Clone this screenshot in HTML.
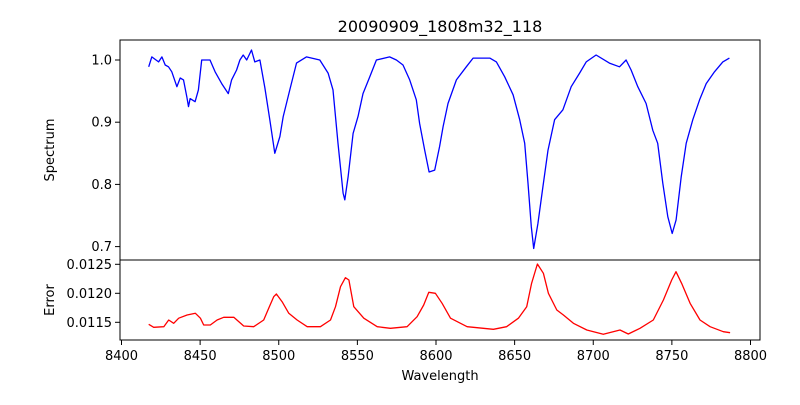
<!DOCTYPE html>
<html><head><meta charset="utf-8"><style>
body{margin:0;background:#fff}
svg text{font-family:"DejaVu Sans","Liberation Sans",sans-serif;fill:#000}
</style></head><body>
<svg id="c" width="800" height="400" xmlns="http://www.w3.org/2000/svg">
<rect width="800" height="400" fill="#fff"/>
<text x="440" y="32" font-size="16" text-anchor="middle">20090909_1808m32_118</text>
<text transform="translate(54,150) rotate(-90)" font-size="13" text-anchor="middle">Spectrum</text>
<text transform="translate(54,300) rotate(-90)" font-size="13" text-anchor="middle">Error</text>
<text x="440" y="380" font-size="13" text-anchor="middle">Wavelength</text>
<g id="g"></g>
</svg>
<script>
const specW=[8417.3,8419.3,8423.6,8425.7,8427.8,8429.9,8432,8435.2,8437.3,8439.4,8441.5,8442.6,8443.6,8446.8,8448.9,8451,8456.3,8459.5,8463.7,8467.9,8470,8473.2,8475.3,8477.4,8479.6,8482.7,8484.8,8488,8491.2,8494.3,8497.5,8500.7,8502.8,8507,8511.3,8517.6,8526.1,8531.4,8534.5,8537.7,8540.9,8542,8544.1,8547.3,8550.4,8553.6,8557.9,8562.1,8570.5,8574.8,8579,8583.3,8587.5,8589.6,8592.8,8595.6,8599.2,8602.3,8604.5,8607.6,8613,8619.3,8623.6,8634.2,8638.4,8643.7,8649,8653.2,8656.4,8658.5,8660.6,8662.1,8664.8,8668,8671.2,8675.4,8680.7,8686,8691.3,8695.5,8701.8,8710.3,8716.7,8720.9,8724.1,8728.3,8733.6,8737.9,8741,8744.2,8747.4,8750.2,8752.7,8755.9,8759.1,8763.3,8767.6,8771.8,8777.1,8782.4,8786.6];
const specF=[0.989,1.005,0.997,1.005,0.992,0.989,0.981,0.957,0.971,0.968,0.941,0.925,0.938,0.933,0.952,1.0,1.0,0.981,0.962,0.946,0.968,0.984,1.0,1.008,1.0,1.016,0.997,1.0,0.955,0.904,0.85,0.877,0.909,0.952,0.995,1.005,1.0,0.979,0.952,0.866,0.786,0.775,0.812,0.882,0.909,0.946,0.973,1.0,1.005,1.0,0.992,0.968,0.936,0.898,0.855,0.82,0.823,0.861,0.893,0.93,0.968,0.989,1.003,1.003,0.997,0.973,0.944,0.904,0.866,0.802,0.732,0.697,0.737,0.796,0.855,0.904,0.92,0.957,0.979,0.997,1.008,0.995,0.989,1.0,0.984,0.957,0.93,0.887,0.866,0.802,0.748,0.721,0.743,0.812,0.866,0.904,0.936,0.962,0.981,0.997,1.003];
const errW=[8417.3,8420.5,8426.9,8430,8433.2,8436.4,8441.7,8447,8450.2,8452.3,8456.5,8460.8,8465,8471.4,8477.7,8484.1,8490.4,8493.6,8496.8,8498.5,8502.1,8506.4,8511.7,8518.1,8526.5,8532.9,8536.1,8539.3,8542.4,8544.6,8547.7,8554.1,8562.6,8571,8581.6,8588,8592.2,8595.4,8599.6,8603.9,8609.2,8619.8,8636.5,8644.9,8652.4,8657.7,8660.8,8664.5,8668.3,8671.5,8676.8,8681,8687.4,8695.9,8706.4,8717,8722.3,8729.7,8738.2,8744.6,8749.9,8752.6,8756.2,8761.6,8767.9,8774.3,8782.7,8787];
const errV=[0.011466,0.011414,0.011424,0.01154,0.011483,0.01157,0.011626,0.011655,0.01157,0.011453,0.011453,0.01154,0.011586,0.011586,0.011436,0.011424,0.01154,0.011741,0.011941,0.011988,0.011855,0.011655,0.01154,0.011424,0.011424,0.01154,0.011769,0.012114,0.012269,0.012229,0.011769,0.01157,0.011424,0.011397,0.011424,0.011597,0.011798,0.012017,0.012,0.011828,0.01157,0.011424,0.01138,0.011424,0.01157,0.011769,0.012172,0.012505,0.012345,0.012,0.011712,0.011626,0.011483,0.011367,0.011293,0.011367,0.011298,0.011397,0.01154,0.011884,0.012229,0.012372,0.012172,0.011828,0.01154,0.011424,0.011338,0.01132];
const xTicks=[8400,8450,8500,8550,8600,8650,8700,8750,8800];
const specTicks=[0.7,0.8,0.9,1.0];
const errTicks=[0.0115,0.0120,0.0125];
const errTickLabels=["0.0115","0.0120","0.0125"];

const NS="http://www.w3.org/2000/svg";
const g=document.getElementById('g');
const X=w=>121.5+(w-8400)*1.5725;
const YS=f=>60+(1.0-f)*622;
const YE=v=>293.3-(v-0.0120)*58000;
function mk(t,a){const e=document.createElementNS(NS,t);for(const k in a)e.setAttribute(k,a[k]);g.appendChild(e);return e;}
function line(pts,color,name){
  const p=mk('polyline',{points:pts.join(' '),fill:'none',stroke:color,'stroke-width':1.3,'stroke-linejoin':'round'});
  
  
}
line(specW.map((w,i)=>X(w).toFixed(1)+','+YS(specF[i]).toFixed(1)),'#0000ff','spectrum-line');
line(errW.map((w,i)=>X(w).toFixed(1)+','+YE(errV[i]).toFixed(1)),'#ff0000','error-line');
const f1=mk('rect',{x:120,y:40,width:640,height:220,fill:'none',stroke:'#000','stroke-width':1});


const f2=mk('rect',{x:120,y:260,width:640,height:80,fill:'none',stroke:'#000','stroke-width':1});


specTicks.forEach(t=>{const y=YS(t);mk('line',{x1:115,x2:120,y1:y,y2:y,stroke:'#000'});
  const e=mk('text',{x:112,y:y+4.5,'font-size':13,'text-anchor':'end'});e.textContent=t.toFixed(1);
  
  });
errTicks.forEach((t,i)=>{const y=YE(t);mk('line',{x1:115,x2:120,y1:y,y2:y,stroke:'#000'});
  const e=mk('text',{x:112,y:y+4.5,'font-size':13,'text-anchor':'end'});e.textContent=errTickLabels[i];
  
  });
xTicks.forEach(t=>{const x=X(t);mk('line',{x1:x,x2:x,y1:340,y2:345,stroke:'#000'});
  const e=mk('text',{x:x,y:360,'font-size':13,'text-anchor':'middle'});e.textContent=t;
  
  });
</script>
</body></html>
